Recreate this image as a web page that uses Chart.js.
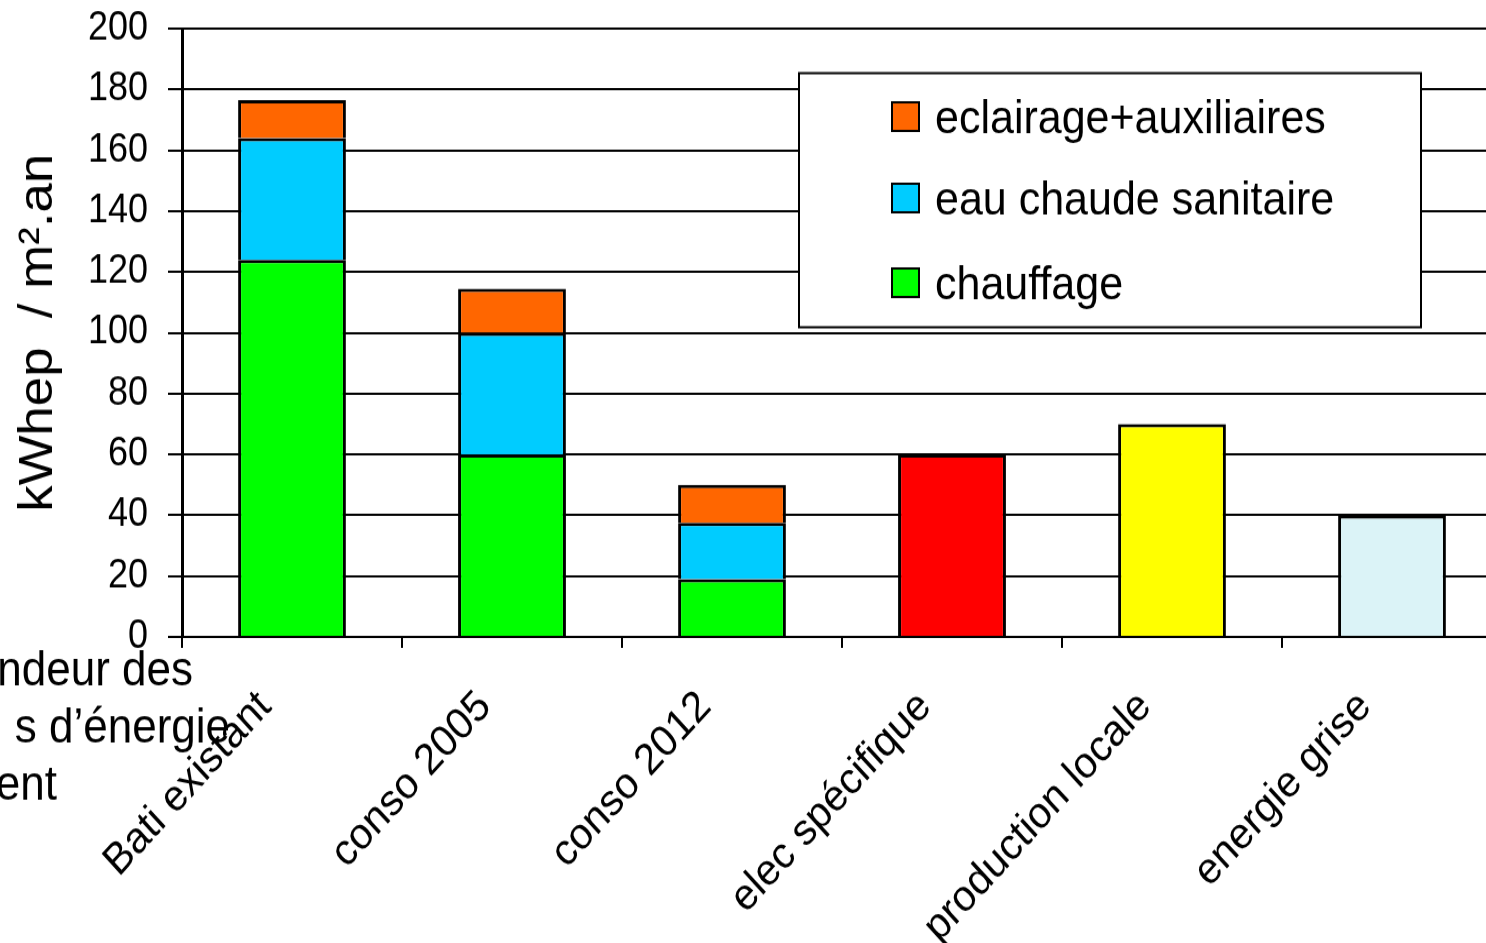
<!DOCTYPE html>
<html>
<head>
<meta charset="utf-8">
<script src="https://cdn.jsdelivr.net/npm/chart.js@4.4.1/dist/chart.umd.min.js"></script>
<style>
  html, body { margin: 0; padding: 0; overflow: hidden; background: #fff; width: 1486px; height: 943px; }
  /* the drawing is made a little taller than wide, like the printed slide */
  #wrap { position: relative; width: 1510px; height: 858px; transform: scaleY(1.1); transform-origin: 0 0; }
</style>
</head>
<body>
<div id="wrap"><canvas id="c" width="1510" height="858"></canvas></div>
<script>
// Categories along the x axis
const categories = ['Bati existant', 'conso 2005', 'conso 2012', 'elec spécifique', 'production locale', 'energie grise'];

// Stacked consumption by use (kWhep / m².an)
const chauffage = [124, 60, 19, null, null, null];
const eauChaude = [40, 40, 18.5, null, null, null];
const eclairage = [12.5, 14.5, 12.5, null, null, null];

// Stand-alone bars
const elecSpecifique = [null, null, null, 60, null, null];
const productionLocale = [null, null, null, null, 70, null];
const energieGrise = [null, null, null, null, null, 40];

// Value axis
const yMin = 0;
const yMax = 200;
const yStep = 20;

// Side note lines
const sideNote = ['ndeur des', 's d’énergie', 'ent'];

const FONT = '"Liberation Sans", Arial, Helvetica, sans-serif';

const barStyle = { borderColor: '#000', borderWidth: 3 };

// Boxed legend for the stacked series plus the side note
const decorations = {
  id: 'decorations',
  afterDraw(chart) {
    const ctx = chart.ctx;
    ctx.save();
    const bx = 799, by = 66.5, bw = 622, bh = 231;
    ctx.fillStyle = '#fff';
    ctx.fillRect(bx, by, bw, bh);
    ctx.lineWidth = 2;
    ctx.strokeStyle = '#000';
    ctx.strokeRect(bx, by, bw, bh);

    const order = [2, 1, 0];
    const rows = [106, 180, 257];
    ctx.font = '43px ' + FONT;
    ctx.textBaseline = 'middle';
    ctx.textAlign = 'left';
    order.forEach((i, k) => {
      const ds = chart.data.datasets[i];
      ctx.fillStyle = ds.backgroundColor;
      ctx.fillRect(892, rows[k] - 13, 27, 26);
      ctx.lineWidth = 2;
      ctx.strokeStyle = '#000';
      ctx.strokeRect(892, rows[k] - 13, 27, 26);
      ctx.fillStyle = '#000';
      ctx.fillText(ds.label, 935, rows[k] + 3);
    });

    ctx.font = '44px ' + FONT;
    ctx.textAlign = 'right';
    ctx.textBaseline = 'alphabetic';
    const noteRight = [193, 230, 57];
    const noteBase = [622.5, 674.5, 727];
    sideNote.forEach((t, k) => ctx.fillText(t, noteRight[k], noteBase[k]));
    ctx.restore();
  }
};

new Chart(document.getElementById('c'), {
  type: 'bar',
  data: {
    labels: categories,
    datasets: [
      { label: 'chauffage', data: chauffage, backgroundColor: '#00FF00', ...barStyle },
      { label: 'eau chaude sanitaire', data: eauChaude, backgroundColor: '#00CCFF', ...barStyle },
      { label: 'eclairage+auxiliaires', data: eclairage, backgroundColor: '#FF6600', ...barStyle },
      { label: 'elec spécifique', data: elecSpecifique, backgroundColor: '#FF0000', ...barStyle },
      { label: 'production locale', data: productionLocale, backgroundColor: '#FFFF00', ...barStyle },
      { label: 'energie grise', data: energieGrise, backgroundColor: '#DBF3F7', ...barStyle }
    ]
  },
  options: {
    responsive: false,
    animation: false,
    devicePixelRatio: 1,
    categoryPercentage: 1,
    barPercentage: 0.49,
    layout: { autoPadding: false, padding: { left: 0, right: 8, top: 26, bottom: 0 } },
    plugins: {
      legend: { display: false },
      tooltip: { enabled: false }
    },
    scales: {
      x: {
        stacked: true,
        afterFit(s) {
          s.height = 279;
          s.paddingLeft = 0;
          s.paddingRight = 0;
        },
        grid: { display: true, drawOnChartArea: false, drawTicks: true, tickLength: 10, color: '#000', lineWidth: 2 },
        border: { display: true, color: '#000', width: 2 },
        ticks: {
          autoSkip: false,
          minRotation: 45,
          maxRotation: 45,
          labelOffset: -27,
          padding: 30,
          color: '#000',
          font: { family: FONT, size: 40 }
        }
      },
      y: {
        stacked: true,
        min: yMin,
        max: yMax,
        afterFit(s) {
          s.width = 182;
          s.paddingTop = 0;
          s.paddingBottom = 0;
        },
        grid: { color: '#000', lineWidth: 2, drawTicks: true, tickLength: 14 },
        border: { display: true, color: '#000', width: 3 },
        ticks: {
          stepSize: yStep,
          padding: 20,
          color: '#000',
          font: { family: FONT, size: 36 }
        },
        title: {
          display: true,
          text: 'kWhep  / m².an',
          color: '#000',
          font: { family: FONT, size: 48 },
          padding: { top: 10, bottom: 0 }
        }
      }
    }
  },
  plugins: [decorations]
});
</script>
</body>
</html>
